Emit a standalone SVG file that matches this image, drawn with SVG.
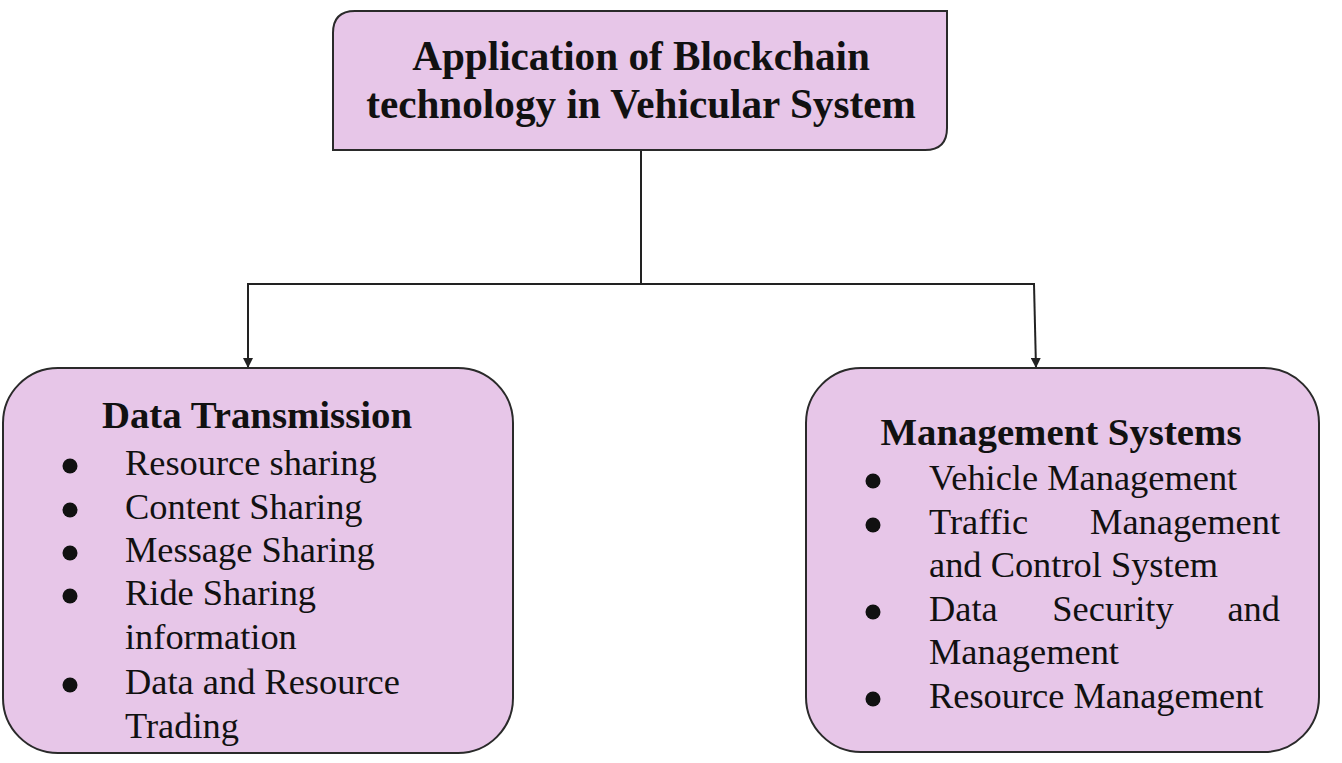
<svg xmlns="http://www.w3.org/2000/svg" width="1342" height="763" viewBox="0 0 1342 763">
<defs>
<style>
.box{fill:#E7C6E8;stroke:#2a2a2a;stroke-width:2}
.title{font-family:"Liberation Serif","Times New Roman",serif;font-weight:bold;font-size:41.2px;fill:#111;text-anchor:middle}
.head{font-family:"Liberation Serif","Times New Roman",serif;font-weight:bold;font-size:38.8px;fill:#111;text-anchor:middle}
.item{font-family:"Liberation Serif","Times New Roman",serif;font-size:36.4px;fill:#111}
.bul{fill:#111}
.conn{fill:none;stroke:#222;stroke-width:2}
</style>
<marker id="arr" viewBox="0 0 10 10" refX="10" refY="5" markerWidth="10" markerHeight="10" markerUnits="userSpaceOnUse" orient="auto">
<path d="M0,0 L10,5 L0,10 Z" fill="#222"/>
</marker>
</defs>
<rect width="1342" height="763" fill="#ffffff"/>
<g id="connectors">
<line class="conn" x1="641" y1="150" x2="641" y2="284"/>
<line class="conn" x1="247" y1="284" x2="1035" y2="284"/>
<line class="conn" x1="248" y1="284" x2="248" y2="368" marker-end="url(#arr)"/>
<line class="conn" x1="1034" y1="284" x2="1036" y2="368" marker-end="url(#arr)"/>
</g>
<g id="root">
<path class="box" d="M355,11 H947 V128 Q947,150 925,150 H333 V33 Q333,11 355,11 Z"/>
<text class="title" x="641" y="70">Application of Blockchain</text>
<text class="title" x="641" y="118">technology in Vehicular System</text>
</g>
<g id="data-transmission">
<rect class="box" x="3" y="368" width="510" height="385" rx="55" ry="55"/>
<text class="head" x="257" y="428">Data Transmission</text>
<circle class="bul" cx="70" cy="466" r="7.5"/>
<text class="item" x="125" y="475">Resource sharing</text>
<circle class="bul" cx="70" cy="510" r="7.5"/>
<text class="item" x="125" y="519">Content Sharing</text>
<circle class="bul" cx="70" cy="553" r="7.5"/>
<text class="item" x="125" y="562">Message Sharing</text>
<circle class="bul" cx="70" cy="596" r="7.5"/>
<text class="item" x="125" y="605">Ride Sharing</text>
<text class="item" x="125" y="649">information</text>
<circle class="bul" cx="70" cy="685" r="7.5"/>
<text class="item" x="125" y="694">Data and Resource</text>
<text class="item" x="125" y="738">Trading</text>
</g>
<g id="management-systems">
<rect class="box" x="806" y="368" width="513" height="384" rx="55" ry="55"/>
<text class="head" x="1061" y="445">Management Systems</text>
<circle class="bul" cx="873" cy="481" r="7.5"/>
<text class="item" x="929" y="490">Vehicle Management</text>
<circle class="bul" cx="873" cy="525" r="7.5"/>
<text class="item" x="929" y="534">Traffic</text>
<text class="item" x="1280" y="534" text-anchor="end">Management</text>
<text class="item" x="929" y="577">and Control System</text>
<circle class="bul" cx="873" cy="612" r="7.5"/>
<text class="item" x="929" y="621">Data</text>
<text class="item" x="1113" y="621" text-anchor="middle">Security</text>
<text class="item" x="1280" y="621" text-anchor="end">and</text>
<text class="item" x="929" y="664">Management</text>
<circle class="bul" cx="873" cy="699" r="7.5"/>
<text class="item" x="929" y="708">Resource Management</text>
</g>
</svg>
